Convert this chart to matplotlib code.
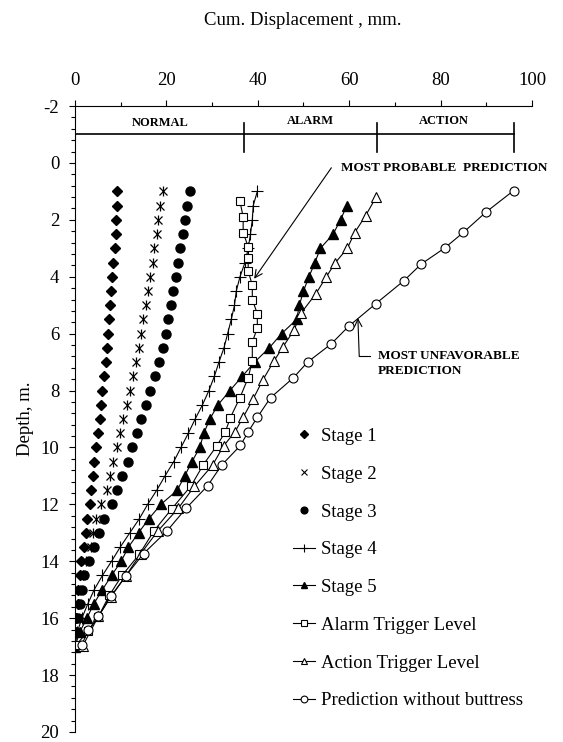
import numpy as np
import matplotlib
matplotlib.use("Agg")
import matplotlib.pyplot as plt
from matplotlib.ticker import MultipleLocator
from matplotlib.lines import Line2D

plt.rcParams['font.family'] = ['Liberation Serif', 'DejaVu Serif']
plt.rcParams['font.size'] = 13.5
plt.rcParams['axes.unicode_minus'] = False

# profundidades de las etapas 1-4 (m)
depth_stage = [1.0, 1.5, 2.0, 2.5, 3.0, 3.5, 4.0, 4.5, 5.0, 5.5, 6.0, 6.5, 7.0, 7.5, 8.0, 8.5,
               9.0, 9.5, 10.0, 10.5, 11.0, 11.5, 12.0, 12.5, 13.0, 13.5, 14.0, 14.5, 15.0,
               15.5, 16.0, 16.5, 17.0]
stage1 = [9.3, 9.2, 9.0, 8.9, 8.7, 8.3, 8.0, 7.9, 7.7, 7.5, 7.3, 6.9, 6.8, 6.3, 6.0, 5.8, 5.4,
          5.1, 4.6, 4.2, 4.0, 3.5, 3.3, 2.7, 2.3, 1.9, 1.3, 1.0, 0.7, 0.6, 0.2, 0.0, 0.0]
stage2 = [19.3, 18.7, 18.2, 17.9, 17.3, 17.0, 16.4, 16.0, 15.5, 14.9, 14.4, 13.9, 13.3, 12.8,
          12.0, 11.4, 10.6, 9.8, 9.1, 8.4, 7.7, 6.9, 5.8, 4.7, 4.0, 3.5, 2.4, 1.7, 1.2, 0.7,
          0.4, 0.2, 0.1]
stage3 = [25.1, 24.6, 24.1, 23.6, 22.9, 22.6, 22.1, 21.5, 21.1, 20.4, 19.9, 19.2, 18.3, 17.5,
          16.5, 15.5, 14.4, 13.5, 12.5, 11.5, 10.3, 9.2, 8.0, 6.4, 5.3, 4.2, 3.1, 2.0, 1.5,
          1.0, 0.6, 0.2, 0.1]
stage4 = [39.9, 39.0, 38.8, 38.4, 37.9, 37.2, 36.1, 35.3, 34.9, 34.2, 33.4, 32.6, 31.5, 30.5,
          29.3, 27.9, 26.3, 24.8, 23.2, 21.6, 19.7, 17.9, 15.9, 14.1, 12.0, 9.9, 8.0, 6.0,
          4.2, 2.8, 1.5, 0.5, 0.0]

depth_stage5 = [1.5, 2.0, 2.5, 3.0, 3.5, 4.0, 4.5, 5.0, 5.5, 6.0, 6.5, 7.0, 7.5, 8.0, 8.5,
                9.0, 9.5, 10.0, 10.5, 11.0, 11.5, 12.0, 12.5, 13.0, 13.5, 14.0, 14.5, 15.0,
                15.5, 16.0, 16.5, 17.0]
stage5 = [59.5, 58.1, 56.5, 53.7, 52.5, 51.2, 50.0, 49.1, 48.5, 45.2, 42.5, 39.3, 36.6, 33.9,
          31.3, 29.5, 28.2, 27.3, 25.6, 24.0, 22.4, 18.8, 16.2, 13.9, 11.7, 10.1, 8.0, 6.0,
          4.1, 2.6, 1.0, 0.0]

depth_alarm = [1.35, 1.9, 2.45, 2.95, 3.35, 3.8, 4.3, 4.8, 5.3, 5.8, 6.3, 6.95, 7.55, 8.25,
               8.95, 9.45, 9.95, 10.6, 11.35, 12.15, 12.95, 13.75, 14.5, 15.2, 15.95, 16.45,
               16.95]
alarm = [36.1, 36.8, 36.8, 37.9, 37.9, 37.9, 38.8, 38.8, 39.9, 39.9, 38.8, 38.8, 37.9, 36.1,
         34.0, 32.9, 31.0, 28.1, 25.4, 21.2, 17.2, 14.1, 10.3, 7.5, 5.1, 2.9, 0.2]

depth_action = [1.2, 1.85, 2.45, 3.0, 3.5, 4.0, 4.6, 5.27, 5.88, 6.47, 6.97, 7.63, 8.29, 8.94,
                9.45, 9.95, 10.62, 11.37, 12.14, 12.94, 13.73, 14.52, 15.24, 15.94, 16.97]
action = [65.9, 63.6, 61.2, 59.6, 57.0, 55.0, 52.7, 49.5, 47.9, 45.5, 43.5, 41.1, 39.0, 36.8,
          35.0, 32.5, 30.1, 26.1, 22.6, 18.1, 14.4, 11.1, 7.9, 5.1, 1.7]

depth_pred = [0.97, 1.72, 2.44, 2.99, 3.55, 4.15, 4.95, 5.74, 6.37, 7.0, 7.55, 8.25, 8.94,
              9.45, 9.93, 10.62, 11.35, 12.14, 12.94, 13.73, 14.52, 15.22, 15.94, 16.43, 16.93]
pred = [96.0, 90.0, 85.0, 80.9, 75.8, 71.9, 65.8, 59.9, 56.0, 50.9, 47.8, 42.8, 39.9, 37.9,
        36.2, 32.1, 29.0, 24.3, 20.1, 15.0, 11.1, 7.9, 5.1, 2.9, 1.5]

# limites de zonas (NORMAL / ALARM / ACTION)
zone_edges = [0, 37, 66, 96]
zone_names = ['NORMAL', 'ALARM', 'ACTION']

fig = plt.figure(figsize=(5.63, 7.42), dpi=100)
ax = fig.add_axes([0.1332, 0.0135, 0.8117, 0.8436])

lw = 0.8
ax.plot(stage1, depth_stage, ls='none', marker='D', ms=5, color='black')
ax.plot(stage2, depth_stage, ls='none', marker='x', ms=6, mew=0.9, color='black')
ax.plot(stage2, depth_stage, ls='none', marker='|', ms=7, mew=0.9, color='black')
ax.plot(stage3, depth_stage, ls='none', marker='o', ms=6.5, color='black')
ax.plot(stage4, depth_stage, '-', lw=lw, marker='+', ms=8, mew=0.8, color='black')
ax.plot(stage5, depth_stage5, '-', lw=lw, marker='^', ms=6.5, color='black')
ax.plot(alarm, depth_alarm, '-', lw=lw, marker='s', ms=6, mfc='white', mew=0.8, color='black')
ax.plot(action, depth_action, '-', lw=lw, marker='^', ms=6.5, mfc='white', mew=0.8, color='black')
ax.plot(pred, depth_pred, '-', lw=lw, marker='o', ms=6.5, mfc='white', mew=0.8, color='black')

# zonas
ax.plot([zone_edges[0], zone_edges[-1]], [-1, -1], color='black', lw=1.2)
for xe in zone_edges[1:]:
    ax.plot([xe, xe], [-1.4, -0.4], color='black', lw=1.2)
zone_label_x = [18.6, 51.6, 80.8]
zone_label_y = [-1.42, -1.47, -1.47]
for name, xl, yl in zip(zone_names, zone_label_x, zone_label_y):
    ax.text(xl, yl, name, ha='center', va='center', fontsize=9, fontweight='bold')

# anotaciones
ax.text(58.3, 0.17, 'MOST PROBABLE  PREDICTION', ha='left', va='center',
        fontsize=9.5, fontweight='bold')
ax.annotate('', xy=(39.2, 4.07), xytext=(56.1, 0.17),
            arrowprops=dict(arrowstyle='->', lw=0.8, color='black',
                            shrinkA=0, shrinkB=0))
ax.text(66.3, 7.06, 'MOST UNFAVORABLE\nPREDICTION', ha='left', va='center',
        fontsize=9.5, fontweight='bold', linespacing=1.3)
ax.plot([64.5, 62.2], [6.8, 6.8], color='black', lw=0.8)
ax.annotate('', xy=(61.9, 5.45), xytext=(62.2, 6.8),
            arrowprops=dict(arrowstyle='->', lw=0.8, color='black',
                            shrinkA=0, shrinkB=0))

ax.set_xlim(0, 100)
ax.set_ylim(20, -2)
ax.xaxis.tick_top()
ax.xaxis.set_major_locator(MultipleLocator(20))
ax.xaxis.set_minor_locator(MultipleLocator(10))
ax.yaxis.set_major_locator(MultipleLocator(2))
ax.yaxis.set_minor_locator(MultipleLocator(0.4))
ax.tick_params(which='major', direction='out', length=4.3, width=0.8, labelsize=13.5)
ax.tick_params(axis='x', which='major', pad=8)
ax.tick_params(axis='y', which='major', pad=7)
ax.tick_params(which='minor', direction='out', length=3.1, width=0.8)
ax.spines['bottom'].set_visible(False)
ax.spines['right'].set_visible(False)
ax.spines['top'].set_linewidth(0.8)
ax.spines['left'].set_linewidth(0.8)

ax.set_ylabel('Depth, m.', fontsize=13.5)
ax.yaxis.set_label_coords(-0.09, 0.5)
fig.text(0.538, 0.973, 'Cum. Displacement , mm.', ha='center', va='center', fontsize=13.5)

handles = [
    Line2D([], [], ls='none', marker='D', ms=5, color='black'),
    Line2D([], [], ls='none', marker='x', ms=5, mew=0.8, color='black'),
    Line2D([], [], ls='none', marker='o', ms=6.5, color='black'),
    Line2D([], [], ls='-', lw=lw, marker='+', ms=8, mew=0.8, color='black'),
    Line2D([], [], ls='-', lw=lw, marker='^', ms=6.5, color='black'),
    Line2D([], [], ls='-', lw=lw, marker='s', ms=6, mfc='white', mew=0.8, color='black'),
    Line2D([], [], ls='-', lw=lw, marker='^', ms=6.5, mfc='white', mew=0.8, color='black'),
    Line2D([], [], ls='-', lw=lw, marker='o', ms=6.5, mfc='white', mew=0.8, color='black'),
]
labels = ['Stage 1', 'Stage 2', 'Stage 3', 'Stage 4', 'Stage 5',
          'Alarm Trigger Level', 'Action Trigger Level', 'Prediction without buttress']
ax.legend(handles, labels, loc='center left', bbox_to_anchor=(0.476, 0.261),
          frameon=False, fontsize=13.5, handlelength=1.2, handletextpad=0.3,
          labelspacing=1.1, borderpad=0, borderaxespad=0, markerscale=0.75)

fig.savefig('out.png', dpi=100)
